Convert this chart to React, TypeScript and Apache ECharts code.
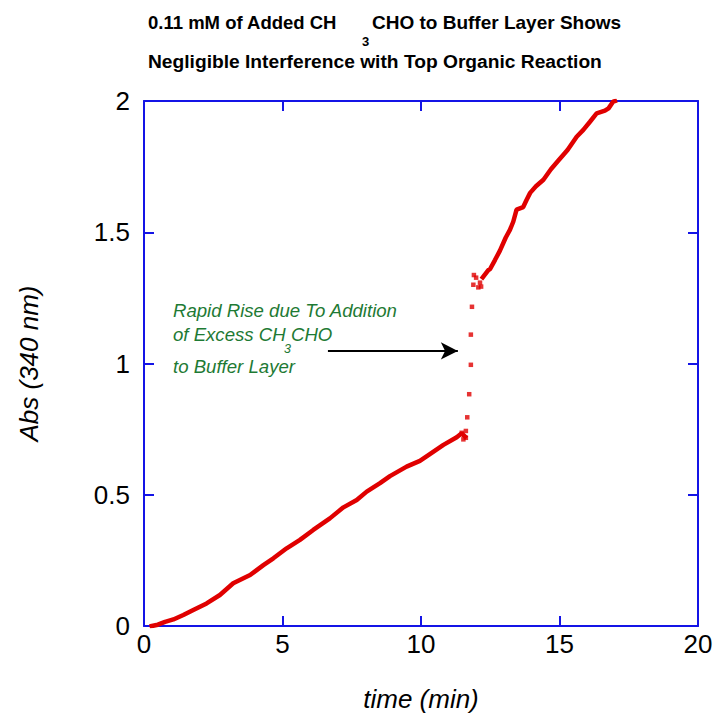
import React, { useEffect, useRef } from "react";
import * as echarts from "echarts";

// Lower (pre-addition) segment: time (min), Abs
const lowerTime = [0.28, 0.5, 0.76, 1.06, 1.42, 1.78, 2.26, 2.74, 3.22, 3.83, 4.31, 4.67, 5.15, 5.63, 6.11, 6.71, 7.2, 7.68, 8.04, 8.52, 8.88, 9.48, 9.96, 10.32, 10.81, 11.29, 11.47, 11.59];
const lowerAbs = [0.0, 0.005, 0.016, 0.025, 0.042, 0.061, 0.086, 0.118, 0.163, 0.194, 0.232, 0.258, 0.296, 0.328, 0.366, 0.41, 0.452, 0.48, 0.512, 0.544, 0.571, 0.607, 0.629, 0.655, 0.69, 0.719, 0.734, 0.722];

// Sparse points during the rapid rise
const jumpTime = [11.53, 11.47, 11.62, 11.62, 11.67, 11.74, 11.8, 11.8, 11.84, 11.89, 11.91, 11.99, 12.07, 12.13, 12.17];
const jumpAbs = [0.711, 0.736, 0.743, 0.717, 0.795, 0.883, 0.995, 1.11, 1.216, 1.3, 1.337, 1.327, 1.29, 1.308, 1.293];

// Upper (post-addition) segment
const upperTime = [12.23, 12.43, 12.49, 12.67, 12.85, 13.06, 13.21, 13.33, 13.45, 13.69, 13.81, 13.94, 14.15, 14.42, 14.69, 14.96, 15.29, 15.62, 15.86, 16.1, 16.34, 16.64, 16.77, 16.94, 17.0];
const upperAbs = [1.328, 1.356, 1.359, 1.394, 1.43, 1.48, 1.509, 1.54, 1.586, 1.596, 1.623, 1.65, 1.675, 1.7, 1.74, 1.773, 1.813, 1.864, 1.89, 1.921, 1.953, 1.963, 1.972, 1.998, 2.0];

const xTicks = [0, 5, 10, 15, 20];
const yTicks = [0, 0.5, 1, 1.5, 2];

const arrowStart = [6.64, 1.048];
const arrowEnd = [11.33, 1.048];

const zip = (a: number[], b: number[]) => a.map((v, i) => [v, b[i]]);

const RED = "#e00000";
const BLUE = "#1414e6";
const GREEN = "#1e7a34";
const FONT = "Liberation Sans, Arial, sans-serif";

export default function App() {
  const ref = useRef<HTMLDivElement>(null);
  useEffect(() => {
    if (!ref.current) return;
    const chart = echarts.init(ref.current, undefined, { renderer: "svg" });
    const axisCommon = {
      type: "value" as const,
      axisLine: { show: true, onZero: false, lineStyle: { color: BLUE, width: 2 } },
      axisTick: { show: true, inside: true, length: 10, lineStyle: { color: BLUE, width: 2 } },
      splitLine: { show: false },
    };
    const ann = `italic 18.6px ${FONT}`;
    chart.setOption({
      animation: false,
      backgroundColor: "#ffffff",
      grid: { left: 144, right: 17, top: 101, bottom: 90, containLabel: false, outerBoundsMode: "none" },
      xAxis: [
        {
          ...axisCommon,
          min: 0,
          max: 20,
          interval: 5,
          position: "bottom",
          name: "time (min)",
          nameLocation: "middle",
          nameGap: 60,
          nameTextStyle: { fontFamily: FONT, fontSize: 26, fontStyle: "italic", color: "#000" },
          axisLabel: {
            color: "#000",
            fontFamily: FONT,
            fontSize: 26,
            margin: 5,
            formatter: (v: number) => (xTicks.includes(v) ? String(v) : ""),
          },
        },
        {
          ...axisCommon,
          min: 0,
          max: 20,
          interval: 5,
          position: "top",
          axisLabel: { show: false },
        },
      ],
      yAxis: [
        {
          ...axisCommon,
          min: 0,
          max: 2,
          interval: 0.5,
          position: "left",
          name: "Abs (340 nm)",
          nameLocation: "middle",
          nameGap: 102,
          nameTextStyle: { fontFamily: FONT, fontSize: 26, fontStyle: "italic", color: "#000" },
          axisLabel: {
            color: "#000",
            fontFamily: FONT,
            fontSize: 26,
            margin: 14,
            formatter: (v: number) => (yTicks.includes(v) ? String(v) : ""),
          },
        },
        {
          ...axisCommon,
          min: 0,
          max: 2,
          interval: 0.5,
          position: "right",
          axisLabel: { show: false },
        },
      ],
      series: [
        {
          type: "line",
          data: zip(lowerTime, lowerAbs),
          showSymbol: false,
          lineStyle: { color: RED, width: 4.5, cap: "square" },
          itemStyle: { color: RED },
        },
        {
          type: "scatter",
          data: zip(jumpTime, jumpAbs),
          symbol: "rect",
          symbolSize: 4.5,
          itemStyle: { color: RED },
          markLine: {
            silent: true,
            symbol: ["none", "arrow"],
            symbolSize: [13, 17],
            label: { show: false },
            lineStyle: { color: "#000", width: 1.8, type: "solid" },
            data: [[{ coord: arrowStart }, { coord: arrowEnd }]],
          },
        },
        {
          type: "line",
          data: zip(upperTime, upperAbs),
          showSymbol: false,
          lineStyle: { color: RED, width: 4.5, cap: "square" },
          itemStyle: { color: RED },
        },
      ],
      graphic: [
        {
          type: "text",
          x: 148,
          y: 22,
          style: { text: "0.11 mM of Added CH", font: `bold 18.5px ${FONT}`, fill: "#000", textVerticalAlign: "middle" },
        },
        {
          type: "text",
          x: 362,
          y: 41,
          style: { text: "3", font: `bold 13px ${FONT}`, fill: "#000", textVerticalAlign: "middle" },
        },
        {
          type: "text",
          x: 372,
          y: 22,
          style: { text: "CHO to Buffer Layer Shows", font: `bold 19px ${FONT}`, fill: "#000", textVerticalAlign: "middle" },
        },
        {
          type: "text",
          x: 148,
          y: 61,
          style: { text: "Negligible Interference with Top Organic Reaction", font: `bold 19.2px ${FONT}`, fill: "#000", textVerticalAlign: "middle" },
        },
        {
          type: "text",
          x: 173,
          y: 310,
          style: { text: "Rapid Rise due To Addition", font: ann, fill: GREEN, textVerticalAlign: "middle" },
        },
        {
          type: "text",
          x: 173,
          y: 334,
          style: { text: "of Excess CH", font: ann, fill: GREEN, textVerticalAlign: "middle" },
        },
        {
          type: "text",
          x: 284,
          y: 349,
          style: { text: "3", font: `italic 12.5px ${FONT}`, fill: GREEN, textVerticalAlign: "middle" },
        },
        {
          type: "text",
          x: 291,
          y: 334,
          style: { text: "CHO", font: ann, fill: GREEN, textVerticalAlign: "middle" },
        },
        {
          type: "text",
          x: 173,
          y: 366,
          style: { text: "to Buffer Layer", font: ann, fill: GREEN, textVerticalAlign: "middle" },
        },
      ],
    });
    return () => chart.dispose();
  }, []);
  return (
    <div style={{ position: "fixed", left: 0, top: 0, width: 715, height: 716, overflow: "hidden", background: "#fff" }}>
      <div ref={ref} style={{ width: 715, height: 716 }} />
    </div>
  );
}
